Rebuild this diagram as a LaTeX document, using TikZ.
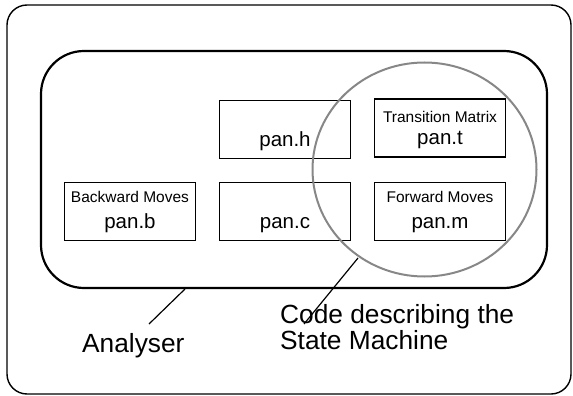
\documentclass[tikz,border=0pt]{standalone}
\usepackage{fontspec}
\setmainfont{Liberation Sans}
\definecolor{ringgray}{RGB}{135,135,135}
\tikzset{
  frame/.style={draw=black, line width=1.4pt, rounded corners=20pt},
  module/.style={draw=black, line width=2.2pt, rounded corners=43pt},
  filebox/.style={draw=black, line width=1.3pt, minimum width=131pt, minimum height=58pt, inner sep=0pt},
  caption/.style={font=\fontsize{15.5}{17}\selectfont, anchor=base, inner sep=0pt},
  fname/.style={font=\fontsize{20.5}{22}\selectfont, anchor=base, inner sep=0pt},
  label/.style={font=\fontsize{26.3}{24}\selectfont, anchor=base west, inner sep=0pt, align=left},
  ring/.style={draw=ringgray, line width=2pt},
  pointer/.style={draw=black, line width=1.2pt}
}
\begin{document}
\begin{tikzpicture}[x=1pt,y=-1pt]
\useasboundingbox (0,0) rectangle (573,396);

% outer frame and analyser module
\draw[frame] (7,5) rectangle (571,394);
\draw[module] (41,51) rectangle (547,288);

% source files
\node[filebox] (boxh) at (285,129.5) {};
\node[filebox] (boxt) at (440,128) {};
\node[filebox] (boxb) at (130,211.5) {};
\node[filebox] (boxc) at (285,211.5) {};
\node[filebox] (boxm) at (440,211.5) {};

\node[fname] (th) at (285,146) {pan.h};
\node[caption] (ctt) at (440,122) {Transition Matrix};
\node[fname] (tt) at (440,144) {pan.t};
\node[caption] (cbb) at (130,202) {Backward Moves};
\node[fname] (tb) at (130,228) {pan.b};
\node[fname] (tc) at (285,228) {pan.c};
\node[caption] (cmm) at (440,202) {Forward Moves};
\node[fname] (tm) at (440,228) {pan.m};

% state machine ring
\draw[ring] (424.5,169.5) ellipse [x radius=112, y radius=107];

% labels and their pointers
\node[label] (lana) at (82,352.5) {Analyser};
\node[label] (lcode) at (280,349) {Code describing the\\State Machine};

\coordinate (atip) at (185,289);
\coordinate (aend) at (149,324);
\coordinate (ctip) at (358,258);
\coordinate (cend) at (304,324);
\draw[pointer] (atip) -- (aend);
\draw[pointer] (ctip) -- (cend);
\end{tikzpicture}
\end{document}
